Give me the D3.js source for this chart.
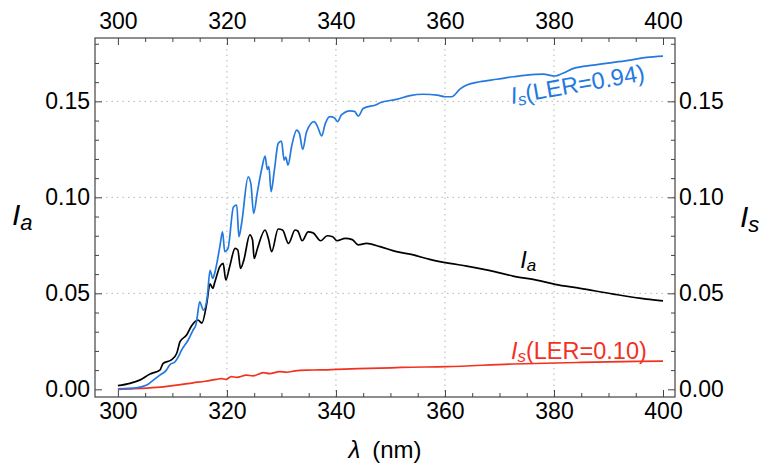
<!DOCTYPE html>
<html>
<head>
<meta charset="utf-8">
<script src="https://cdn.jsdelivr.net/npm/d3@7"></script>
<style>
  body { margin: 0; background: #fff; }
  text { font-family: "Liberation Sans", Arial, sans-serif; }
</style>
</head>
<body>
<div id="chart"></div>
<script>
// absorbed intensity I_a
var lambdaA = [300.0, 302.2, 304.0, 305.9, 307.7, 308.3, 309.8, 310.8, 311.4, 312.6, 313.5, 314.7, 315.4, 316.3,
  316.9, 317.4, 317.8, 318.7, 319.3, 319.8, 320.5, 321.5, 322.0, 322.5, 323.1, 324.2, 324.7, 325.0, 325.6,
  327.0, 327.6, 328.2, 329.4, 330.2, 331.3, 332.5, 333.0, 333.8, 334.9, 335.8, 337.2, 338.4, 339.4, 340.2,
  341.7, 343.0, 344.1, 345.6, 348.1, 351.1, 354.2, 357.2, 360.9, 364.0, 368.3, 372.5, 376.8, 380.2, 384.8,
  390.9, 397.0, 400.0];
var ia = [0.0019, 0.0031, 0.0048, 0.0080, 0.0100, 0.0135, 0.0153, 0.0188, 0.0248, 0.0283, 0.0330, 0.0360, 0.0345, 0.0448,
  0.0550, 0.0526, 0.0560, 0.0639, 0.0656, 0.0570, 0.0639, 0.0734, 0.0726, 0.0630, 0.0673, 0.0804, 0.0778, 0.0682, 0.0734,
  0.0830, 0.0786, 0.0717, 0.0835, 0.0830, 0.0760, 0.0830, 0.0825, 0.0774, 0.0820, 0.0815, 0.0774, 0.0800, 0.0795, 0.0774,
  0.0786, 0.0780, 0.0752, 0.0760, 0.0743, 0.0717, 0.0700, 0.0677, 0.0656, 0.0642, 0.0618, 0.0590, 0.0569, 0.0547, 0.0526,
  0.0496, 0.0470, 0.0461];

// scattered intensity, LER = 0.94
var lambdaHi = [300.0, 303.4, 305.3, 306.5, 307.7, 308.9, 309.5, 310.5, 311.1, 311.7, 312.9, 313.8, 314.3, 314.6, 315.0,
  315.7, 316.4, 316.9, 317.4, 317.8, 318.7, 319.2, 319.6, 320.2, 321.2, 321.8, 322.2, 322.7, 323.9, 324.4, 324.9,
  325.6, 326.4, 327.0, 327.4, 327.7, 328.1, 328.7, 329.4, 330.0, 330.5, 330.8, 331.2, 331.9, 332.8, 333.3, 333.9,
  334.6, 336.0, 336.6, 337.4, 338.0, 338.9, 339.7, 340.3, 341.0, 342.6, 343.4, 344.1, 345.0, 347.5, 348.1, 351.1,
  353.6, 356.0, 358.6, 360.0, 361.2, 362.8, 364.0, 366.4, 369.5, 372.5, 375.0, 378.0, 380.2, 381.5, 383.6, 387.2,
  390.9, 394.0, 397.0, 400.0];
var isHigh = [0.0003, 0.0008, 0.0022, 0.0048, 0.0074, 0.0100, 0.0127, 0.0144, 0.0170, 0.0205, 0.0257, 0.0309, 0.0335, 0.0387, 0.0456,
  0.0413, 0.0482, 0.0620, 0.0578, 0.0610, 0.0743, 0.0820, 0.0717, 0.0734, 0.0950, 0.0960, 0.0795, 0.0865, 0.1107, 0.1070, 0.0917,
  0.1030, 0.1150, 0.1215, 0.1146, 0.1160, 0.1030, 0.1140, 0.1280, 0.1293, 0.1194, 0.1210, 0.1168, 0.1270, 0.1350, 0.1333, 0.1250,
  0.1340, 0.1394, 0.1370, 0.1320, 0.1380, 0.1420, 0.1415, 0.1394, 0.1429, 0.1450, 0.1448, 0.1423, 0.1463, 0.1484, 0.1493, 0.1510,
  0.1530, 0.1537, 0.1532, 0.1524, 0.1524, 0.1565, 0.1585, 0.1602, 0.1615, 0.1628, 0.1637, 0.1642, 0.1632, 0.1645, 0.1672, 0.1689,
  0.1703, 0.1715, 0.1729, 0.1736];

// scattered intensity, LER = 0.10
var lambdaLo = [300.0, 303.0, 307.1, 310.8, 313.8, 316.0, 318.1, 319.0, 319.8, 320.8, 321.8, 323.6, 324.8, 326.7, 327.8,
  329.7, 331.0, 332.5, 334.6, 337.0, 340.1, 344.0, 348.1, 352.0, 360.3, 372.5, 384.8, 400.0];
var isLow = [0.0000, 0.0003, 0.0010, 0.0022, 0.0034, 0.0042, 0.0052, 0.0056, 0.0052, 0.0066, 0.0062, 0.0074, 0.0070, 0.0087, 0.0082,
  0.0092, 0.0089, 0.0096, 0.0100, 0.0101, 0.0104, 0.0108, 0.0110, 0.0114, 0.0118, 0.0132, 0.0140, 0.0147];

var xTicks = [300, 320, 340, 360, 380, 400];
var yTicks = [0, 0.05, 0.10, 0.15];
var xGrid = [320, 340, 360, 380];
var yGrid = [0.05, 0.10, 0.15];

const width = 763
const height = 465
const svg = d3.select("#chart").append("svg")
  .attr("width", width)
  .attr("height", height)

const x = d3.scaleLinear().domain([295.8, 402.2]).range([95, 675])
const y = d3.scaleLinear().domain([-0.004, 0.183]).range([397, 38])

const xMinor = d3.range(300, 401, 5).filter(d => xTicks.indexOf(d) < 0)
const yMinor = d3.range(0, 19).map(d => d / 100).filter(d => d % 0.05 > 0.001 && d % 0.05 < 0.049)

// grid
svg.append("g").selectAll("line").data(xGrid).enter().append("line")
  .attr("x1", d => x(d)).attr("x2", d => x(d))
  .attr("y1", y.range()[0]).attr("y2", y.range()[1])
  .attr("stroke", "#b4b4b4").attr("stroke-dasharray", "1.5,4")
svg.append("g").selectAll("line").data(yGrid).enter().append("line")
  .attr("y1", d => y(d)).attr("y2", d => y(d))
  .attr("x1", x.range()[0]).attr("x2", x.range()[1])
  .attr("stroke", "#b4b4b4").attr("stroke-dasharray", "1.5,4")

// axes (ticks pointing inward)
function styleAxis(g) {
  g.select(".domain").remove()
  g.selectAll(".tick line").attr("stroke", "#444")
  g.selectAll("text").attr("fill", "#000").style("font-size", "23px")
    .style("font-family", '"Liberation Sans", Arial, sans-serif')
}
const fx = d3.format("d"), fy = d3.format(".2f")
svg.append("g").attr("transform", `translate(0,${y.range()[0]})`)
  .call(d3.axisBottom(x).tickValues(xTicks).tickSize(-7).tickPadding(6).tickFormat(fx)).call(styleAxis)
svg.append("g").attr("transform", `translate(0,${y.range()[1]})`)
  .call(d3.axisTop(x).tickValues(xTicks).tickSize(-7).tickPadding(9).tickFormat(fx)).call(styleAxis)
svg.append("g").attr("transform", `translate(${x.range()[0]},0)`)
  .call(d3.axisLeft(y).tickValues(yTicks).tickSize(-7).tickPadding(5).tickFormat(fy)).call(styleAxis)
svg.append("g").attr("transform", `translate(${x.range()[1]},0)`)
  .call(d3.axisRight(y).tickValues(yTicks).tickSize(-7).tickPadding(4).tickFormat(fy)).call(styleAxis)
// minor ticks
svg.append("g").attr("transform", `translate(0,${y.range()[0]})`)
  .call(d3.axisBottom(x).tickValues(xMinor).tickSize(-4).tickFormat("")).call(styleAxis)
svg.append("g").attr("transform", `translate(0,${y.range()[1]})`)
  .call(d3.axisTop(x).tickValues(xMinor).tickSize(-4).tickFormat("")).call(styleAxis)
svg.append("g").attr("transform", `translate(${x.range()[0]},0)`)
  .call(d3.axisLeft(y).tickValues(yMinor).tickSize(-4).tickFormat("")).call(styleAxis)
svg.append("g").attr("transform", `translate(${x.range()[1]},0)`)
  .call(d3.axisRight(y).tickValues(yMinor).tickSize(-4).tickFormat("")).call(styleAxis)

// frame
svg.append("rect")
  .attr("x", x.range()[0]).attr("y", y.range()[1])
  .attr("width", x.range()[1] - x.range()[0]).attr("height", y.range()[0] - y.range()[1])
  .attr("fill", "none").attr("stroke", "#444").attr("stroke-width", 1.2)

// curves
const line = d3.line().x(d => x(d[0])).y(d => y(d[1])).curve(d3.curveMonotoneX)
function curve(lx, ly, color) {
  svg.append("path")
    .datum(lx.map((d, i) => [d, ly[i]]))
    .attr("d", line)
    .attr("fill", "none")
    .attr("stroke", color)
    .attr("stroke-width", 1.7)
    .attr("stroke-linejoin", "round")
}
curve(lambdaLo, isLow, "#f2321f")
curve(lambdaA, ia, "#000")
curve(lambdaHi, isHigh, "#2479e0")

// curve labels
function label(px, py, main, sub, rest, color, rot) {
  const t = svg.append("text")
    .attr("transform", `translate(${px},${py}) rotate(${rot})`)
    .attr("fill", color).style("font-size", "23.5px")
  t.append("tspan").style("font-style", "italic").text(main)
  t.append("tspan").style("font-style", "italic").style("font-size", "17px").attr("dy", 3).text(sub)
  if (rest) t.append("tspan").attr("dy", -3).text(rest)
}
label(x(372.3), y(0.1486), "I", "s", "(LER=0.94)", "#2479e0", -10)
label(x(373.8), y(0.0632), "I", "a", "", "#000", 0)
label(x(372.1), y(0.0158), "I", "s", "(LER=0.10)", "#f2321f", 0)

// axis titles
function axisTitle(px, py, sub) {
  const t = svg.append("text").attr("x", px).attr("y", py).attr("fill", "#000")
    .style("font-size", "30px").style("font-style", "italic")
  t.append("tspan").text("I")
  t.append("tspan").style("font-size", "22px").attr("dy", 5).text(sub)
}
axisTitle(12, 225, "a")
axisTitle(740, 227, "s")

const xt = svg.append("text").attr("x", 385).attr("y", 458).attr("text-anchor", "middle")
  .attr("fill", "#000").style("font-size", "24px")
xt.append("tspan").style("font-style", "italic").text("λ")
xt.append("tspan").attr("xml:space", "preserve").text("\u2002(nm)")
</script>
</body>
</html>
